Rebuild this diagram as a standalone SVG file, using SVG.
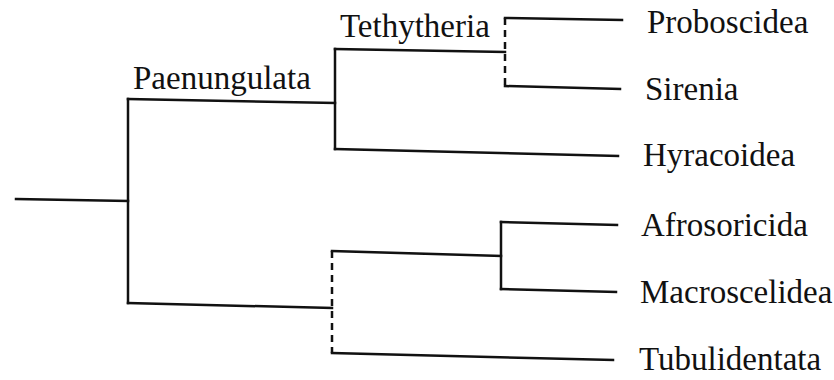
<svg xmlns="http://www.w3.org/2000/svg" width="834" height="380" viewBox="0 0 834 380">
<style>
.ln{fill:none;stroke:#111;stroke-width:2.5;stroke-linecap:square}
.ds{fill:none;stroke:#111;stroke-width:2.5;stroke-dasharray:7 5}
text{font-family:"Liberation Serif","Times New Roman",serif;font-size:33px;fill:#111}
</style>
<rect width="834" height="380" fill="#fff"/>
<g id="connectors">
<path class="ln" d="M16,199 L128,201"/>
<path class="ln" d="M128,99 L128,303"/>
<path class="ln" d="M128,99 L335,103"/>
<path class="ln" d="M128,303 L332,308"/>
<path class="ln" d="M335,49 L335,149"/>
<path class="ln" d="M335,49 L505,52"/>
<path class="ln" d="M335,149 L618,156"/>
<path class="ds" d="M505,18 L505,86"/>
<path class="ln" d="M505,18 L622,20"/>
<path class="ln" d="M505,86 L620,89"/>
<path class="ds" d="M332,251 L332,353"/>
<path class="ln" d="M332,251 L501,256"/>
<path class="ln" d="M332,353 L613,360"/>
<path class="ln" d="M501,222 L501,289"/>
<path class="ln" d="M501,222 L617,225"/>
<path class="ln" d="M501,289 L616,292"/>
</g>
<g id="Paenungulata"><text x="133" y="89">Paenungulata</text></g>
<g id="Tethytheria"><text x="340" y="37">Tethytheria</text></g>
<g id="Proboscidea"><text x="647" y="33">Proboscidea</text></g>
<g id="Sirenia"><text x="645" y="100">Sirenia</text></g>
<g id="Hyracoidea"><text x="643" y="166">Hyracoidea</text></g>
<g id="Afrosoricida"><text x="641" y="236">Afrosoricida</text></g>
<g id="Macroscelidea"><text x="640" y="303">Macroscelidea</text></g>
<g id="Tubulidentata"><text x="639" y="370">Tubulidentata</text></g>
</svg>
